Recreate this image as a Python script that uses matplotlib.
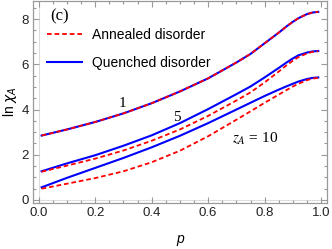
import numpy as np
import matplotlib
matplotlib.use("Agg")
import matplotlib.pyplot as plt
from matplotlib.ticker import MultipleLocator, FormatStrFormatter

# values
p = [0.01, 0.1, 0.2, 0.3, 0.4, 0.5, 0.6, 0.7, 0.75, 0.8, 0.85, 0.88, 0.9, 0.92, 0.95, 0.97, 0.99]

ann_1 = [2.85, 3.12, 3.45, 3.83, 4.28, 4.80, 5.38, 6.08, 6.46, 6.93, 7.40, 7.70, 7.88, 8.04, 8.22, 8.29, 8.32]
que_1 = [2.85, 3.12, 3.45, 3.83, 4.28, 4.80, 5.38, 6.08, 6.46, 6.93, 7.40, 7.70, 7.88, 8.04, 8.22, 8.29, 8.32]

ann_5 = [1.25, 1.52, 1.83, 2.19, 2.62, 3.12, 3.72, 4.40, 4.76, 5.20, 5.68, 5.98, 6.16, 6.32, 6.48, 6.55, 6.58]
que_5 = [1.27, 1.62, 1.98, 2.40, 2.86, 3.40, 4.02, 4.68, 5.02, 5.42, 5.84, 6.10, 6.26, 6.40, 6.52, 6.57, 6.59]

ann_10 = [0.50, 0.72, 0.97, 1.27, 1.67, 2.18, 2.82, 3.55, 3.92, 4.30, 4.66, 4.88, 5.02, 5.14, 5.30, 5.37, 5.40]
que_10 = [0.56, 0.98, 1.42, 1.86, 2.33, 2.84, 3.40, 4.00, 4.30, 4.60, 4.88, 5.04, 5.14, 5.24, 5.35, 5.40, 5.42]

plt.rcParams['font.family'] = ['Liberation Sans', 'DejaVu Sans']

fig = plt.figure(figsize=(3.32, 2.49), dpi=100)
ax = fig.add_axes([0.099, 0.185, 0.886, 0.811])

ax.axvline(0, color='#dddddd', lw=0.8, zorder=0)
ax.axhline(0, color='#dddddd', lw=0.8, zorder=0)

for q in [que_1, que_5, que_10]:
    ax.plot(p, q, color='blue', lw=1.5, zorder=2)
for a in [ann_1, ann_5, ann_10]:
    ax.plot(p, a, color='red', lw=1.3, dashes=(2.6, 1.6), zorder=3)

ax.set_xlim(-0.021, 1.021)
ax.set_ylim(-0.13, 8.8)
ax.xaxis.set_major_locator(MultipleLocator(0.2))
ax.xaxis.set_minor_locator(MultipleLocator(0.05))
ax.yaxis.set_major_locator(MultipleLocator(2))
ax.yaxis.set_minor_locator(MultipleLocator(0.5))
ax.xaxis.set_major_formatter(FormatStrFormatter('%.1f'))

ax.tick_params(which='both', direction='in', top=True, right=True,
               color='#999999', labelsize=9.5, labelcolor='#222222', width=0.8)
ax.tick_params(which='major', length=4, pad=3)
ax.tick_params(which='minor', length=2)
for s in ax.spines.values():
    s.set_color('#999999')
    s.set_linewidth(0.9)

ax.set_xlabel('p', fontsize=10, fontstyle='italic', labelpad=9)
ax.set_ylabel(r'ln $\chi_A$', fontsize=10, labelpad=2, math_fontfamily='dejavusans')

# legend
ax.plot([], [], color='red', lw=1.3, dashes=(2.6, 1.6), label='Annealed disorder')
ax.plot([], [], color='blue', lw=1.5, label='Quenched disorder')
h, l = ax.get_legend_handles_labels()
ax.legend(h[-2:], l[-2:], loc='upper left', bbox_to_anchor=(0.048, 0.865),
          frameon=False, fontsize=10, handlelength=2.5, handletextpad=0.75,
          labelspacing=1.0, borderaxespad=0, borderpad=0)

ax.text(0.058, 0.925, '(c)', transform=ax.transAxes, fontsize=12,
        family='Liberation Serif', va='center', ha='left')
ax.text(0.295, 4.28, '1', fontsize=11, family='Liberation Serif', ha='center', va='center')
ax.text(0.49, 3.65, '5', fontsize=11, family='Liberation Serif', ha='center', va='center')
ax.text(0.685, 2.72, '$z_A$ = 10', fontsize=11, family='Liberation Serif',
        math_fontfamily='stix', ha='left', va='center')

fig.savefig('out.png', dpi=100)
